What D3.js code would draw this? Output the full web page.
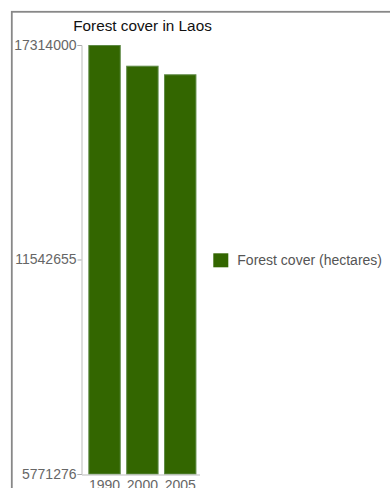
<!DOCTYPE html>
<html>
<head>
<meta charset="utf-8">
<script src="https://cdn.jsdelivr.net/npm/d3@7"></script>
<style>
  html, body { margin: 0; padding: 0; background: #fff; }
  svg { display: block; font-family: "Liberation Sans", Arial, Helvetica, sans-serif; }
</style>
</head>
<body>
<svg id="chart" width="390" height="488"></svg>
<script>
const title = "Forest cover in Laos";
const years = ["1990", "2000", "2005"];
const forestCover = [17314000, 16757000, 16526000];
const yTicks = [5771276, 11542655, 17314000];
const seriesName = "Forest cover (hectares)";

const svg = d3.select("#chart");

// outer frame
svg.append("rect")
  .attr("x", 11.8).attr("y", 11.8)
  .attr("width", 500).attr("height", 600)
  .attr("fill", "none").attr("stroke", "#888").attr("stroke-width", 1.8);

const y = d3.scaleLinear().domain([yTicks[0], yTicks[2]]).range([474, 45]);
const x = d3.scaleBand().domain(years).range([81.5, 199.5])
  .paddingInner(0.144).paddingOuter(0.131).align(0.69);

// bars
svg.append("g").selectAll("rect").data(years).join("rect")
  .attr("x", (d) => x(d) + 0.5)
  .attr("y", (d, i) => y(forestCover[i]) + 0.5)
  .attr("width", x.bandwidth() - 1)
  .attr("height", (d, i) => y(yTicks[0]) - y(forestCover[i]) - 0.5)
  .attr("fill", "#336600")
  .attr("stroke", "#5e8a45")
  .attr("stroke-width", 1);

// y axis
const yAxis = svg.append("g").attr("transform", "translate(81.5,0)")
  .call(d3.axisLeft(y).tickValues(yTicks).tickFormat(d3.format("d")).tickSize(4).tickPadding(1));
yAxis.select(".domain").attr("stroke", "#bbb");
yAxis.selectAll(".tick line").attr("stroke", "#aaa");
yAxis.selectAll(".tick text").attr("fill", "#666").attr("font-size", 14)
  .attr("font-family", "'Liberation Sans', Arial, sans-serif");

// x axis
const xAxis = svg.append("g").attr("transform", "translate(0,474.5)")
  .call(d3.axisBottom(x).tickSize(0).tickPadding(6));
xAxis.select(".domain").attr("stroke", "#bbb");
xAxis.selectAll(".tick text").attr("fill", "#666").attr("font-size", 14)
  .attr("font-family", "'Liberation Sans', Arial, sans-serif");

// title
svg.append("text")
  .attr("x", 142.5).attr("y", 30.5)
  .attr("text-anchor", "middle")
  .attr("font-size", 15.3)
  .attr("fill", "#111")
  .text(title);

// legend
const legend = svg.append("g");
legend.append("rect")
  .attr("x", 213.3).attr("y", 253.3).attr("width", 15).attr("height", 14)
  .attr("fill", "#336600");
legend.append("text")
  .attr("x", 237.3).attr("y", 264.5)
  .attr("font-size", 14).attr("fill", "#555")
  .text(seriesName);
</script>
</body>
</html>
